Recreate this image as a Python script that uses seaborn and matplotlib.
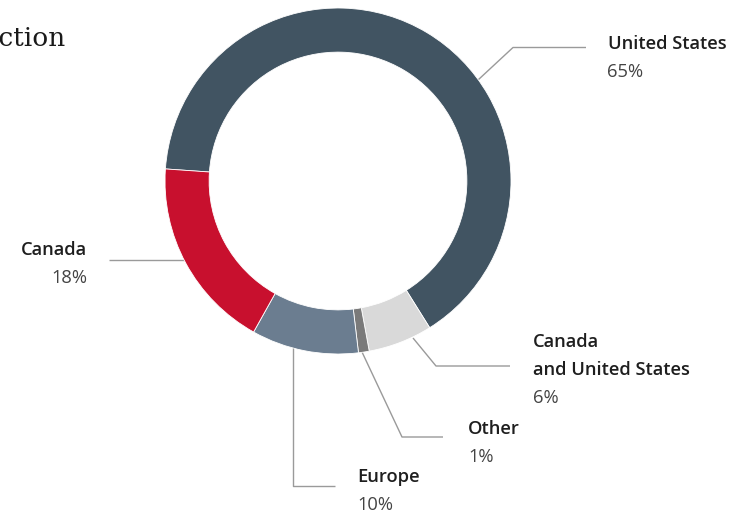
import matplotlib
matplotlib.use("Agg")
import matplotlib.pyplot as plt
import seaborn as sns

# ---- data ----
regions = ["United States", "Canada\nand United States", "Other", "Europe", "Canada"]
shares = [65, 6, 1, 10, 18]
pct_labels = ["65%", "6%", "1%", "10%", "18%"]
colors = ["#415462", "#d9d9d9", "#7a7a7a", "#6b7d90", "#c8102e"]
title_text = "Production"

sns.set_theme(style="white")
plt.rcParams["font.family"] = ["Open Sans", "DejaVu Sans"]

W, H = 749, 513
fig = plt.figure(figsize=(W / 100, H / 100), dpi=100)
ax = fig.add_axes([0, 0, 1, 1])

def Y(py):
    return H - py

cx, cy, R = 338, Y(181), 173
ax.pie(shares, colors=colors, startangle=176, counterclock=False,
       radius=R, center=(cx, cy),
       wedgeprops=dict(width=R * 0.255, edgecolor="white", linewidth=0.6),
       frame=False)

ax.set_xlim(0, W)
ax.set_ylim(0, H)
ax.set_aspect("equal")
ax.set_axis_off()

line_kw = dict(color="#9a9a9a", lw=1.0, zorder=0.5, solid_capstyle="butt")

# leader lines (layout positions, pixel space)
leaders = [
    [(478, 80), (513, 47.5), (586, 47.5)],          # United States
    [(413, 338), (436, 366), (510, 366)],           # Canada and US
    [(362, 352), (402, 437), (443, 437)],           # Other
    [(293.3, 345), (293.3, 485.5), (335, 485.5)],   # Europe
    [(190, 260), (109, 260)],                        # Canada
]
for pts in leaders:
    xs = [p[0] for p in pts]
    ys = [Y(p[1]) for p in pts]
    ax.plot(xs, ys, **line_kw)

name_kw = dict(fontsize=13.2, fontweight="semibold", color="#1e1e1e", va="baseline")
pct_kw = dict(fontsize=13.2, fontweight="normal", color="#444444", va="baseline")

# label anchors: (x, first baseline, ha)
anchors = [
    (607.5, 49.3, "left"),
    (533.3, 347.3, "left"),
    (468.3, 434.0, "left"),
    (357.3, 482.0, "left"),
    (87.5, 255.0, "right"),
]
step = 28.0
for name, pct, (x, b, ha) in zip(regions, pct_labels, anchors):
    lines = name.split("\n")
    for i, ln in enumerate(lines):
        ax.text(x, Y(b + i * step), ln, ha=ha, **name_kw)
    ax.text(x, Y(b + len(lines) * step), pct, ha=ha, **pct_kw)

# title (cut off at left edge in the reference)
ax.text(66, Y(46.5), title_text, ha="right", va="baseline",
        fontsize=19, color="#1a1a1a", family=["DejaVu Serif"])

fig.savefig("out.png", dpi=100, facecolor="white")
